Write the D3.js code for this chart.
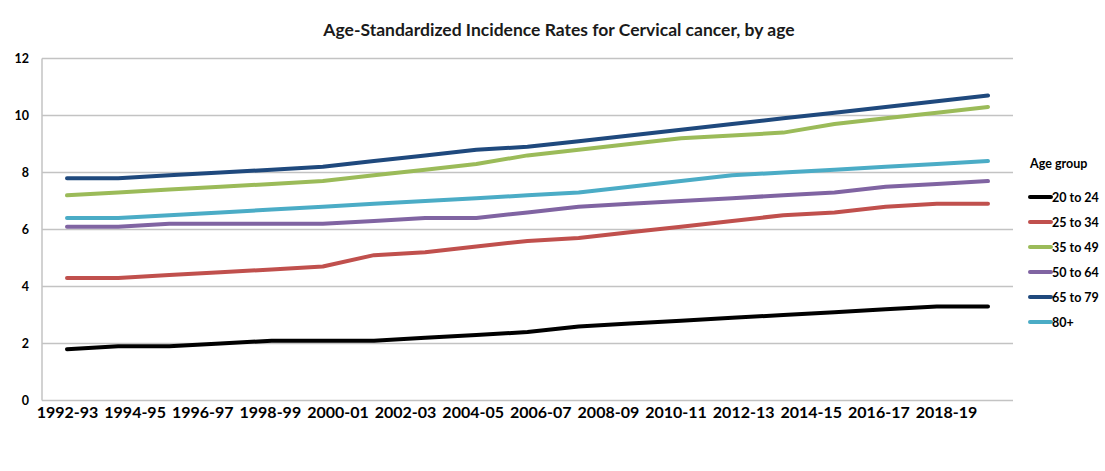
<!DOCTYPE html>
<html>
<head>
<meta charset="utf-8">
<script src="https://cdn.jsdelivr.net/npm/d3@7"></script>
<style>
  html, body { margin: 0; padding: 0; background: #ffffff; }
  svg { display: block; }
  text { font-family: Lato, "Open Sans", sans-serif; font-weight: bold; fill: #000; }
</style>
</head>
<body>
<svg id="chart" width="1105" height="471"></svg>
<script>
// Period labels shown along the bottom axis
const periodLabels = ["1992-93", "1994-95", "1996-97", "1998-99", "2000-01", "2002-03", "2004-05",
  "2006-07", "2008-09", "2010-11", "2012-13", "2014-15", "2016-17", "2018-19"];

// Age groups (legend order)
const ageGroups = ["20 to 24", "25 to 34", "35 to 49", "50 to 64", "65 to 79", "80+"];
const groupColors = ["#000000", "#c0504d", "#9bbb59", "#8064a2", "#1f497d", "#4bacc6"];

// Incidence rates per age group, one value per observation point
const rate20to24 = [1.8, 1.9, 1.9, 2.0, 2.1, 2.1, 2.1, 2.2, 2.3, 2.4, 2.6, 2.7, 2.8, 2.9, 3.0, 3.1, 3.2, 3.3, 3.3];
const rate25to34 = [4.3, 4.3, 4.4, 4.5, 4.6, 4.7, 5.1, 5.2, 5.4, 5.6, 5.7, 5.9, 6.1, 6.3, 6.5, 6.6, 6.8, 6.9, 6.9];
const rate35to49 = [7.2, 7.3, 7.4, 7.5, 7.6, 7.7, 7.9, 8.1, 8.3, 8.6, 8.8, 9.0, 9.2, 9.3, 9.4, 9.7, 9.9, 10.1, 10.3];
const rate50to64 = [6.1, 6.1, 6.2, 6.2, 6.2, 6.2, 6.3, 6.4, 6.4, 6.6, 6.8, 6.9, 7.0, 7.1, 7.2, 7.3, 7.5, 7.6, 7.7];
const rate65to79 = [7.8, 7.8, 7.9, 8.0, 8.1, 8.2, 8.4, 8.6, 8.8, 8.9, 9.1, 9.3, 9.5, 9.7, 9.9, 10.1, 10.3, 10.5, 10.7];
const rate80plus = [6.4, 6.4, 6.5, 6.6, 6.7, 6.8, 6.9, 7.0, 7.1, 7.2, 7.3, 7.5, 7.7, 7.9, 8.0, 8.1, 8.2, 8.3, 8.4];

const yTicks = [0, 2, 4, 6, 8, 10, 12];

const seriesValues = [rate20to24, rate25to34, rate35to49, rate50to64, rate65to79, rate80plus];
const series = ageGroups.map((name, i) => ({ name, color: groupColors[i], values: seriesValues[i] }));

const svg = d3.select("#chart");

// Plot frame
const plotLeft = 42, plotRight = 1013, plotTop = 58.5, plotBottom = 400.5;

const y = d3.scaleLinear().domain([0, 12]).range([plotBottom, plotTop]);
const xPoint = d3.scaleLinear().domain([0, rate20to24.length - 1]).range([67, 988]);
const xLabel = d3.scalePoint().domain(periodLabels).range([67, 946]);

// Title
svg.append("text")
  .attr("x", 559).attr("y", 36)
  .attr("text-anchor", "middle")
  .style("font-size", "17.5px")
  .style("fill", "#1a1a1a")
  .text("Age-Standardized Incidence Rates for Cervical cancer, by age");

// Horizontal gridlines
svg.append("g")
  .selectAll("line")
  .data(yTicks)
  .join("line")
  .attr("x1", plotLeft).attr("x2", plotRight)
  .attr("y1", d => y(d)).attr("y2", d => y(d))
  .attr("stroke", "#c3c3c3")
  .attr("stroke-width", 1.5);

// Vertical axis line
svg.append("line")
  .attr("x1", plotLeft).attr("x2", plotLeft)
  .attr("y1", plotTop).attr("y2", plotBottom)
  .attr("stroke", "#c3c3c3")
  .attr("stroke-width", 1.5);

// Y axis labels
const yAxis = d3.axisLeft(y).tickValues(yTicks).tickSize(0).tickPadding(13).tickFormat(d3.format("d"));
const yAxisG = svg.append("g").attr("transform", `translate(${plotLeft},0)`).call(yAxis);
yAxisG.select(".domain").remove();
yAxisG.selectAll("text").style("font-size", "12.5px").style("font-family", "Lato, sans-serif").style("font-weight", "bold");

// X axis labels
const xAxis = d3.axisBottom(xLabel).tickSize(0).tickPadding(6);
const xAxisG = svg.append("g").attr("transform", `translate(0,${plotBottom})`).call(xAxis);
xAxisG.select(".domain").remove();
xAxisG.selectAll("text").style("font-size", "16px").style("font-family", "Lato, sans-serif").style("font-weight", "bold");

// Series lines
const line = d3.line()
  .x((d, i) => xPoint(i))
  .y(d => y(d));

svg.append("g")
  .selectAll("path")
  .data(series)
  .join("path")
  .attr("d", d => line(d.values))
  .attr("fill", "none")
  .attr("stroke", d => d.color)
  .attr("stroke-width", 4)
  .attr("stroke-linejoin", "round")
  .attr("stroke-linecap", "round");

// Legend
const legend = svg.append("g");
legend.append("text")
  .attr("x", 1030).attr("y", 168)
  .style("font-size", "12.5px")
  .text("Age group");

const items = legend.selectAll("g.item")
  .data(series)
  .join("g")
  .attr("class", "item")
  .attr("transform", (d, i) => `translate(0,${197 + i * 25})`);

items.append("line")
  .attr("x1", 1030).attr("x2", 1051)
  .attr("y1", 0).attr("y2", 0)
  .attr("stroke", d => d.color)
  .attr("stroke-width", 4)
  .attr("stroke-linecap", "round");

items.append("text")
  .attr("x", 1052).attr("y", 4.5)
  .style("font-size", "12.5px")
  .text(d => d.name);
</script>
</body>
</html>
